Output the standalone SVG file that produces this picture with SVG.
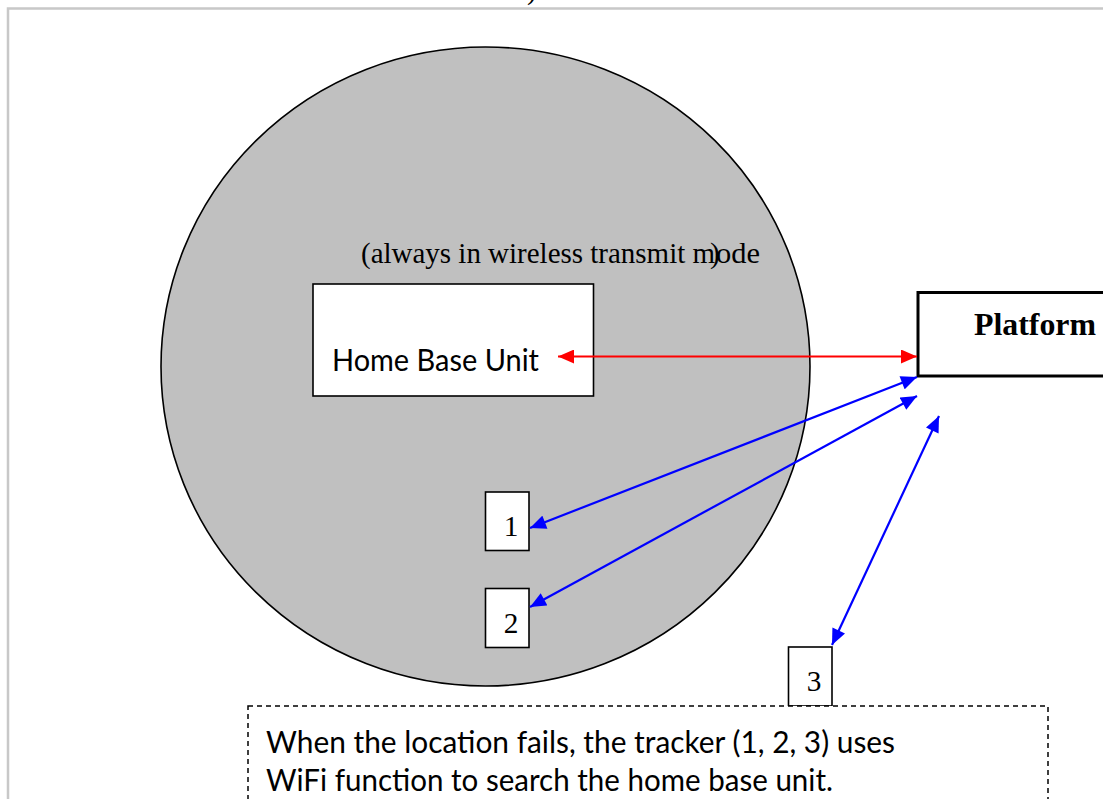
<svg xmlns="http://www.w3.org/2000/svg" width="1103" height="799" viewBox="0 0 1103 799">
<defs>
<style>
.serif{font-family:"Liberation Serif","Times New Roman",serif;fill:#000}
.sans{font-family:Lato,"Open Sans",sans-serif;fill:#000}
.box{fill:#fff;stroke:#000;stroke-width:1.6}
.blue{stroke:#0000ff;stroke-width:2.2;fill:none}
.red{stroke:#ff0000;stroke-width:2.2;fill:none}
</style>
<marker id="ab" viewBox="0 0 16 14" refX="16" refY="7" markerWidth="17" markerHeight="14" markerUnits="userSpaceOnUse" orient="auto-start-reverse"><path d="M0,0 L16,7 L0,14 Z" fill="#0000ff"/></marker>
<marker id="ar" viewBox="0 0 16 14" refX="16" refY="7" markerWidth="17" markerHeight="14" markerUnits="userSpaceOnUse" orient="auto-start-reverse"><path d="M0,0 L16,7 L0,14 Z" fill="#ff0000"/></marker>
</defs>
<rect width="1103" height="799" fill="#fff"/>
<path d="M8,800 V8.5 H1104" fill="none" stroke="#c8c8c8" stroke-width="2.5"/>
<text class="serif" x="527" y="-1" font-size="29">)</text>

<g id="coverage">
<ellipse cx="485.5" cy="366.5" rx="324.5" ry="319.5" fill="#c0c0c0" stroke="#000" stroke-width="1.6"/>
<text class="serif" x="361" y="263" font-size="29.3" textLength="354" lengthAdjust="spacingAndGlyphs">(always in wireless transmit m</text>
<text class="serif" x="710" y="263" font-size="29.3">)</text>
<text class="serif" x="716" y="263" font-size="29.3" textLength="44" lengthAdjust="spacingAndGlyphs">ode</text>
</g>

<g id="home-base-unit">
<rect class="box" x="313" y="284" width="280.5" height="112" stroke-width="2"/>
<text class="sans" x="332" y="371" font-size="30" textLength="207" lengthAdjust="spacingAndGlyphs">Home Base Unit</text>
</g>

<g id="platform">
<rect x="918" y="292.5" width="200" height="83.5" fill="#fff" stroke="#000" stroke-width="3"/>
<text class="serif" x="974" y="335" font-size="31" font-weight="bold" textLength="122" lengthAdjust="spacingAndGlyphs">Platform</text>
</g>

<g id="tracker-1">
<rect class="box" x="485.5" y="492" width="43.5" height="58.5"/>
<text class="serif" x="511" y="536" font-size="29.3" text-anchor="middle">1</text>
</g>
<g id="tracker-2">
<rect class="box" x="485.5" y="588.5" width="43.5" height="59"/>
<text class="serif" x="511" y="633" font-size="29.3" text-anchor="middle">2</text>
</g>
<g id="tracker-3">
<rect class="box" x="788.5" y="647" width="43.5" height="59"/>
<text class="serif" x="814" y="691" font-size="29.3" text-anchor="middle">3</text>
</g>

<g id="note">
<rect x="248" y="706" width="800" height="120" fill="#fff" stroke="#000" stroke-width="1.5" stroke-dasharray="5,4"/>
<text class="sans" x="266" y="753" font-size="30" textLength="629" lengthAdjust="spacingAndGlyphs">When the location fails, the tracker (1, 2, 3) uses</text>
<text class="sans" x="266" y="791" font-size="30" textLength="567" lengthAdjust="spacingAndGlyphs">WiFi function to search the home base unit.</text>
</g>

<g id="connectors">
<line class="red" x1="558" y1="356.5" x2="917" y2="356.5" marker-start="url(#ar)" marker-end="url(#ar)"/>
<line class="blue" x1="530" y1="528" x2="917" y2="377" marker-start="url(#ab)" marker-end="url(#ab)"/>
<line class="blue" x1="530" y1="607" x2="917" y2="396" marker-start="url(#ab)" marker-end="url(#ab)"/>
<line class="blue" x1="832" y1="645" x2="939" y2="416" marker-start="url(#ab)" marker-end="url(#ab)"/>
</g>
</svg>
